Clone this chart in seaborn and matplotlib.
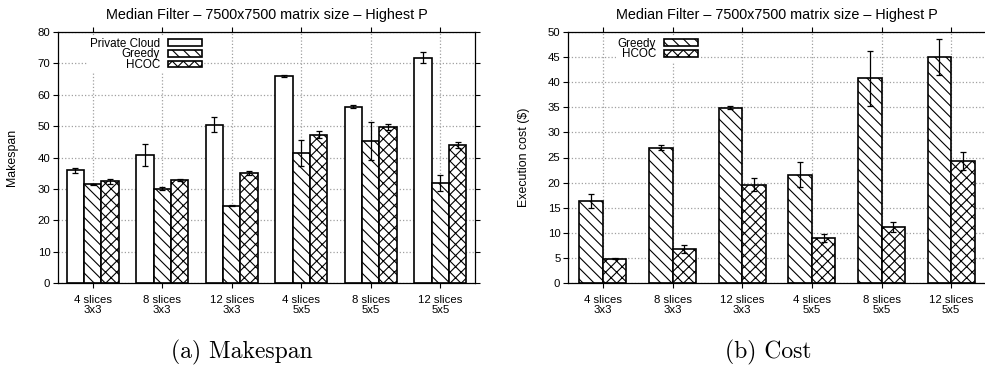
import matplotlib
matplotlib.use("Agg")
import matplotlib.pyplot as plt
import seaborn as sns
import pandas as pd

categories = ["4 slices\n3x3", "8 slices\n3x3", "12 slices\n3x3",
              "4 slices\n5x5", "8 slices\n5x5", "12 slices\n5x5"]

# Makespan
private_cloud = [36.0, 40.7, 50.5, 66.0, 56.2, 71.8]
private_cloud_err = [0.8, 3.5, 2.5, 0.3, 0.4, 1.8]
greedy_mk = [31.5, 30.0, 24.6, 41.5, 45.3, 31.8]
greedy_mk_err = [0.2, 0.5, 0.2, 4.2, 6.0, 2.5]
hcoc_mk = [32.4, 32.8, 35.0, 47.2, 49.7, 44.0]
hcoc_mk_err = [0.7, 0.4, 0.7, 1.1, 1.0, 1.0]

# Cost
greedy_cost = [16.4, 26.9, 34.9, 21.6, 40.8, 45.0]
greedy_cost_err = [1.4, 0.5, 0.3, 2.5, 5.5, 3.6]
hcoc_cost = [4.8, 6.8, 19.6, 9.0, 11.1, 24.3]
hcoc_cost_err = [0.1, 0.8, 1.3, 0.8, 1.0, 1.8]

title = "Median Filter \u2013 7500x7500 matrix size \u2013 Highest P"

plt.rcParams["font.family"] = ["Liberation Sans", "DejaVu Sans"]
plt.rcParams["hatch.linewidth"] = 0.8

W, H = 985, 367
fig = plt.figure(figsize=(W / 100, H / 100), dpi=100)


def box(x0, x1, ytop, ybot):
    return [x0 / W, 1 - ybot / H, (x1 - x0) / W, (ybot - ytop) / H]


ax1 = fig.add_axes(box(58, 475, 32, 283))
ax2 = fig.add_axes(box(568, 986, 32, 283))

hatch_map = {"Private Cloud": "", "Greedy": "\\\\\\", "HCOC": "xxx"}


def draw(ax, series, errs, labels, width, ylim, ystep, ylabel, leg_x, lab_x):
    rows = []
    for lab, vals in zip(labels, series):
        for c, v in zip(categories, vals):
            rows.append({"cat": c, "val": v, "alg": lab})
    df = pd.DataFrame(rows)
    sns.barplot(data=df, x="cat", y="val", hue="alg", order=categories,
                hue_order=labels, palette={l: "white" for l in labels},
                edgecolor="black", linewidth=1.2, width=width, gap=0,
                errorbar=None, legend=False, saturation=1, ax=ax)
    for cont, lab, er in zip(ax.containers, labels, errs):
        xs, ys = [], []
        for bar in cont:
            bar.set_hatch(hatch_map[lab])
            bar.set_edgecolor("black")
            xs.append(bar.get_x() + bar.get_width() / 2)
            ys.append(bar.get_height())
        ax.errorbar(xs, ys, yerr=er, fmt="none", ecolor="black",
                    elinewidth=0.9, capsize=2.2, capthick=0.9, zorder=5)
    ax.set_xlim(-0.5, len(categories) - 0.5)
    ax.set_ylim(*ylim)
    ax.set_yticks(range(ylim[0], ylim[1] + 1, ystep))
    ax.set_axisbelow(True)
    ax.grid(True, color="#a0a0a0", linestyle=":", linewidth=0.9)
    ax.tick_params(direction="out", top=True, right=True, length=3.5,
                   width=0.8, labelsize=8.2, pad=2)
    ax.tick_params(axis="x", pad=5)
    for t in ax.get_xticklabels():
        t.set_linespacing(1.0)
    ax.set_xlabel("")
    ax.set_ylabel(ylabel, fontsize=8.9)
    ax.yaxis.set_label_coords(lab_x, 0.5)
    for s in ax.spines.values():
        s.set_linewidth(0.9)
        s.set_color("black")
    ax.set_title(title, fontsize=10.4, pad=9)
    handles = [c[0] for c in ax.containers]
    leg = ax.legend(handles, labels, loc="upper right",
                    bbox_to_anchor=(leg_x, 0.985), markerfirst=False,
                    fontsize=8.4, handlelength=2.9, handleheight=0.5,
                    handletextpad=0.7, labelspacing=-0.1, borderpad=0.15,
                    borderaxespad=0, frameon=True, fancybox=False)
    leg.get_frame().set_edgecolor("none")
    leg.get_frame().set_facecolor("white")
    leg.get_frame().set_alpha(1)
    for t in leg.get_texts():
        t.set_ha("right")


draw(ax1, [private_cloud, greedy_mk, hcoc_mk],
     [private_cloud_err, greedy_mk_err, hcoc_mk_err],
     ["Private Cloud", "Greedy", "HCOC"], 0.75, (0, 80), 10, "Makespan",
     0.35, -0.095)
draw(ax2, [greedy_cost, hcoc_cost], [greedy_cost_err, hcoc_cost_err],
     ["Greedy", "HCOC"], 0.67, (0, 50), 5, "Execution cost ($)", 0.315,
     -0.09)

fig.text(242 / W, 1 - 352 / H, "(a) Makespan", family="cmr10", fontsize=17,
         ha="center", va="center")
fig.text(768 / W, 1 - 352 / H, "(b) Cost", family="cmr10", fontsize=17,
         ha="center", va="center")

fig.savefig("out.png", dpi=100)
